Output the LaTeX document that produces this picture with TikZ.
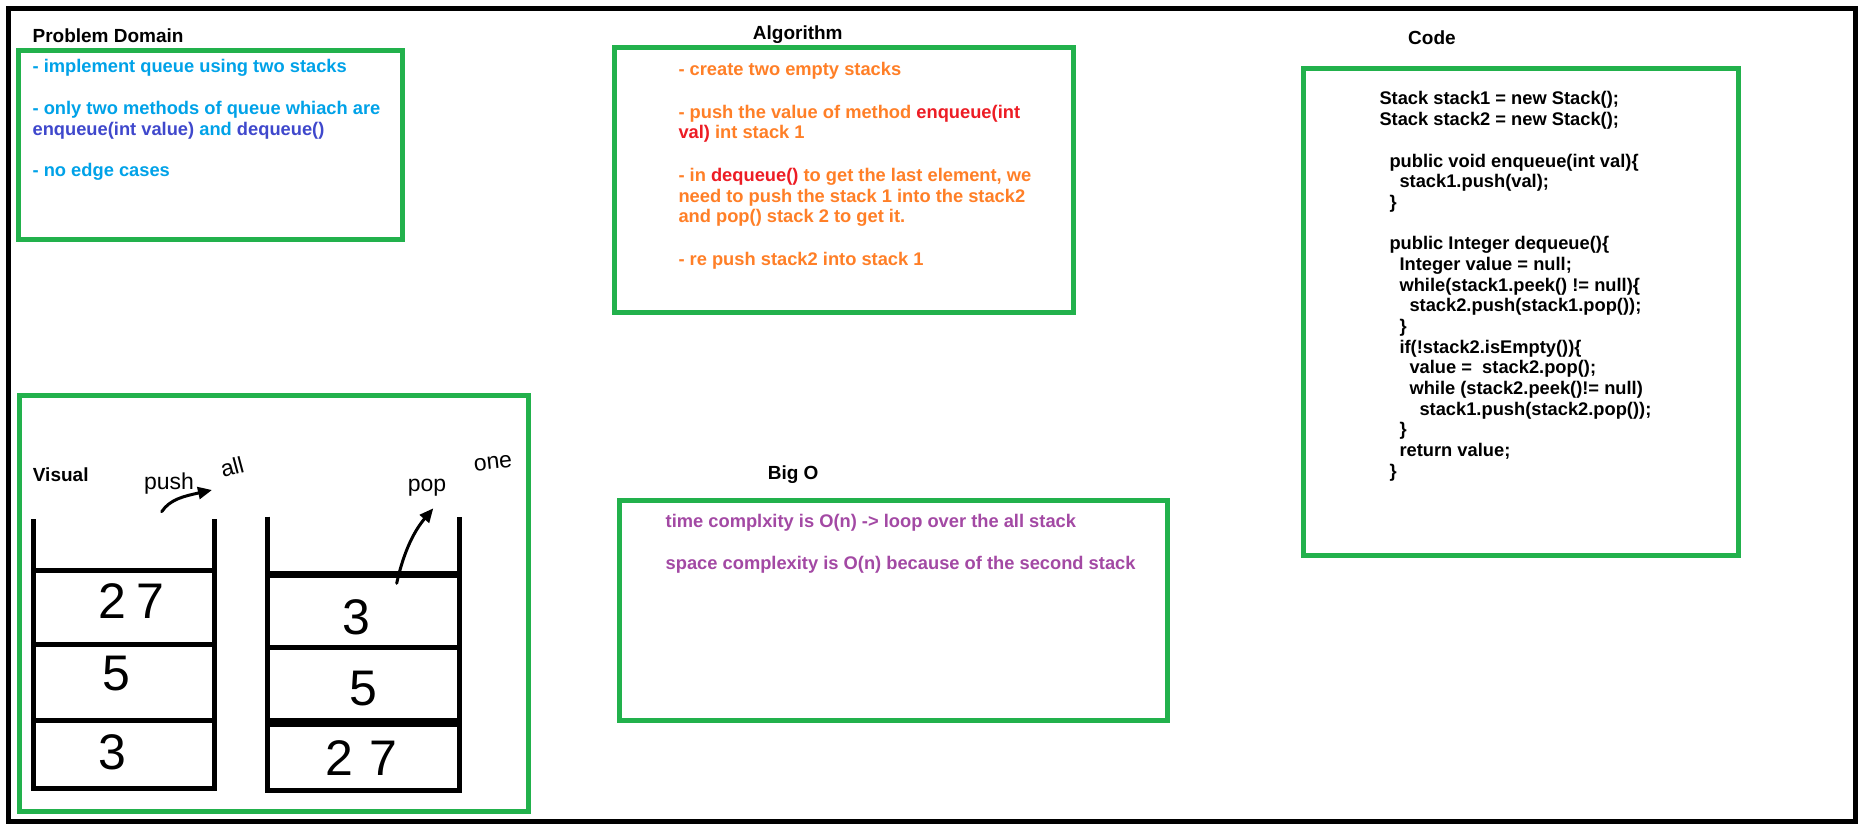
\documentclass[tikz,border=0pt]{standalone}
\usepackage{fontspec}
\setmainfont{Liberation Sans}
\definecolor{boxgreen}{RGB}{34,177,76}
\definecolor{skyblue}{RGB}{0,162,232}
\definecolor{deepindigo}{RGB}{63,72,204}
\definecolor{paintorange}{RGB}{255,127,39}
\definecolor{paintred}{RGB}{237,28,36}
\definecolor{paintpurple}{RGB}{163,73,164}
\usetikzlibrary{positioning,arrows.meta}

\tikzset{
  greenbox/.style={line width=5pt, boxgreen},
  heading/.style={anchor=base west, inner sep=0pt, font=\fontsize{19}{22}\selectfont\bfseries},
  bodytext/.style={anchor=base west, inner sep=0pt, font=\fontsize{18.3}{21}\selectfont\bfseries},
  stackwall/.style={line width=5pt, line join=miter},
  digitnum/.style={inner sep=0pt, font=\fontsize{50}{52}\selectfont},
  scrawl/.style={inner sep=0pt, font=\fontsize{23}{25}\selectfont},
  handarrow/.style={line width=3pt, line cap=round, -{Triangle[length=14pt,width=12pt]}}
}

\begin{document}
\begin{tikzpicture}[x=1pt,y=-1pt]
    \fill[white] (0,0) rectangle (1865,832);
    \useasboundingbox (0,0) rectangle (1865,832);
    \draw[line width=5pt] (8.5,8.5) rectangle (1855.5,821.5);

    % boxes
    \draw[greenbox] (18.4,50.5) rectangle (402,239);
    \draw[greenbox] (614,48) rectangle (1073.3,312);
    \draw[greenbox] (1303.5,68.5) rectangle (1738.5,555);
    \draw[greenbox] (19.5,395.8) rectangle (528,811.7);
    \draw[greenbox] (619.8,500) rectangle (1167.4,720);

    % headings
    \node[heading] (pdtitle) at (32.4,43) {Problem Domain};
    \node[heading] (algotitle) at (752.7,39.3) {Algorithm};
    \node[heading] (codetitle) at (1408,45) {Code};
    \node[heading] (vistitle) at (32.7,481) {Visual};
    \node[heading] (bigotitle) at (767.6,479.3) {Big O};

    % problem domain
    \node[bodytext,skyblue] (pd1) at (32.4,72.7) {- implement queue using two stacks};
    \node[bodytext,skyblue] (pd2) at (32.4,115) {- only two methods of queue whiach are};
    \node[bodytext,skyblue] (pd3) at (32.4,135.6) {\textcolor{deepindigo}{enqueue(int value)} and \textcolor{deepindigo}{dequeue()}};
    \node[bodytext,skyblue] (pd4) at (32.4,176.7) {- no edge cases};

    % algorithm
    \node[bodytext,paintorange] (algo1) at (678.3,76) {- create two empty stacks};
    \node[bodytext,paintorange] (algo2) at (678.3,118.3) {- push the value of method \textcolor{paintred}{enqueue(int}};
    \node[bodytext,paintorange] (algo3) at (678.3,139) {\textcolor{paintred}{val)} int stack 1};
    \node[bodytext,paintorange] (algo4) at (678.3,181) {- in \textcolor{paintred}{dequeue()} to get the last element, we};
    \node[bodytext,paintorange] (algo5) at (678.3,202) {need to push the stack 1 into the stack2};
    \node[bodytext,paintorange] (algo6) at (678.3,222.7) {and pop() stack 2 to get it.};
    \node[bodytext,paintorange] (algo7) at (678.3,265) {- re push stack2 into stack 1};

    % code
    \foreach \row/\ind/\txt in {0/0/{Stack stack1 = new Stack();}, 1/0/{Stack stack2 = new Stack();},
        3/1/{public void enqueue(int val)\{}, 4/2/{stack1.push(val);}, 5/1/\},
        7/1/{public Integer dequeue()\{}, 8/2/{Integer value = null;}, 9/2/{while(stack1.peek() != null)\{},
        10/3/{stack2.push(stack1.pop());}, 11/2/\}, 12/2/{if(!stack2.isEmpty())\{},
        13/3/{value = \ stack2.pop();}, 14/3/{while (stack2.peek()!= null)}, 15/4/{stack1.push(stack2.pop());},
        16/2/\}, 17/2/{return value;}, 18/1/\}}
        \node[bodytext] (code\row) at (1379.3+10*\ind,105+20.67*\row) {\txt};

    % big O
    \node[bodytext,paintpurple] (bigo1) at (665.5,527.3) {time complxity is O(n) -> loop over the all stack};
    \node[bodytext,paintpurple] (bigo2) at (665.5,569) {space complexity is O(n) because of the second stack};

    % stack 1
    \draw[stackwall] (33.6,519.3) -- (33.6,788.8) -- (214.4,788.8) -- (214.4,519.3);
    \foreach \y in {570.8,644.8,720}
        \draw[stackwall] (33.6,\y) -- (214.4,\y);
    \node[digitnum] (oneA) at (131.7,601) {2\kern10pt 7};
    \node[digitnum] (oneB) at (116,674) {5};
    \node[digitnum] (oneC) at (112,752) {3};

    % stack 2
    \draw[stackwall] (267.7,516.7) -- (267.7,790.3) -- (459.9,790.3) -- (459.9,516.7);
    \draw[stackwall, line width=7pt] (267.7,574.7) -- (459.9,574.7);
    \draw[stackwall] (267.7,647.8) -- (459.9,647.8);
    \draw[stackwall, line width=9pt] (267.7,722.2) -- (459.9,722.2);
    \node[digitnum] (twoA) at (356.4,617) {3};
    \node[digitnum] (twoB) at (363,689) {5};
    \node[digitnum] (twoC) at (361.7,758) {2\kern16pt 7};

    % hand notes
    \node[scrawl] (pushnote) at (169,484) {push};
    \node[scrawl, rotate=15] (allnote) at (232,467) {all};
    \node[scrawl] (popnote) at (427,488) {pop};
    \node[scrawl, rotate=6] (onenote) at (493,463) {one};
    \coordinate (pushstart) at (161.7,511.7);
    \coordinate (pushend) at (212,490);
    \coordinate (popstart) at (396.7,583.3);
    \coordinate (popend) at (433.3,508.3);
    \draw[handarrow] (pushstart) .. controls (170,499) and (185,496) .. (pushend);
    \draw[handarrow] (popstart) .. controls (404,550) and (415,530) .. (popend);
\end{tikzpicture}
\end{document}
